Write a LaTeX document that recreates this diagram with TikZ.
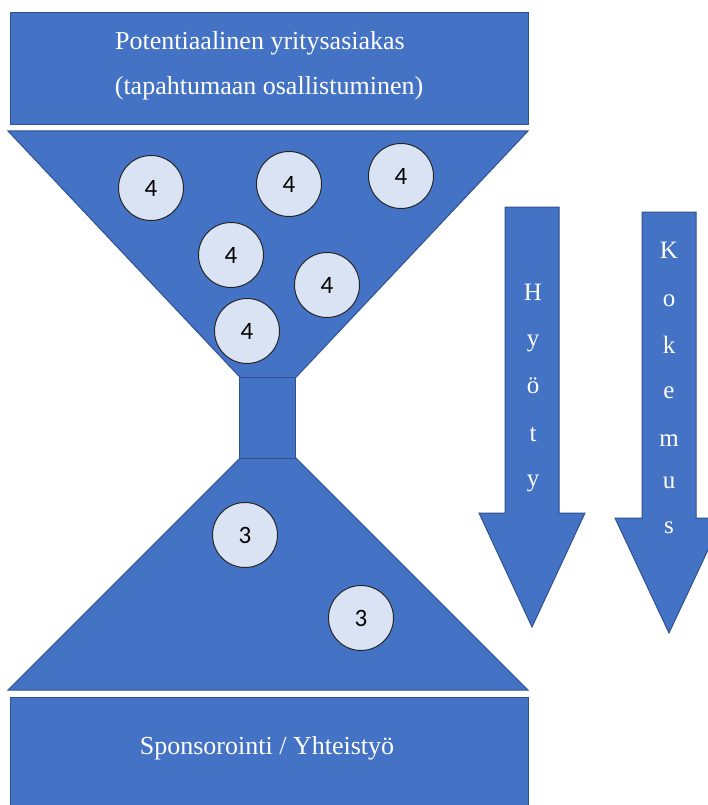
\documentclass[tikz,border=0pt]{standalone}
\usepackage{fontspec}
\setmainfont{Liberation Serif}
\newfontfamily\digitfont{Carlito}
\begin{document}
\begin{tikzpicture}[x=1pt,y=-1pt,
  blueshape/.style={fill=myblue,draw=myborder,line width=1pt},
  ball/.style={circle,fill=mylight,draw=black!85,line width=1pt,minimum size=65pt,inner sep=0pt,font=\digitfont\fontsize{25}{25}\selectfont},
  wtext/.style={text=white,font=\fontsize{26}{26}\selectfont,inner sep=0pt},
  letter/.style={text=white,font=\fontsize{25}{25}\selectfont,inner sep=0pt,anchor=base}]
\definecolor{myblue}{HTML}{4472C4}
\definecolor{myborder}{HTML}{2F528F}
\definecolor{mylight}{HTML}{DAE3F3}
\useasboundingbox (0,0) rectangle (708,805);
\fill[white] (0,0) rectangle (708,805);
% top box
\draw[blueshape] (10,13) rectangle (528,125);
\node[wtext] (t1) at (260,43) {Potentiaalinen yritysasiakas};
\node[wtext] (t2) at (269,88) {(tapahtumaan osallistuminen)};
% funnel
\draw[blueshape] (8,131) -- (528,131) -- (268,407) -- cycle;
\draw[blueshape] (8,690) -- (528,690) -- (268,430) -- cycle;
\draw[blueshape] (239,377) rectangle (295,458);
% balls
\node[ball] (b1) at (151,188) {4};
\node[ball] (b2) at (289,184) {4};
\node[ball] (b3) at (401,176) {4};
\node[ball] (b4) at (231,255) {4};
\node[ball] (b5) at (327,285) {4};
\node[ball] (b6) at (247,331) {4};
\node[ball] (b7) at (245,535) {3};
\node[ball] (b8) at (361,618) {3};
% bottom box
\draw[blueshape] (10,697) rectangle (528,812);
\node[wtext] (t3) at (267,748) {Sponsorointi / Yhteistyö};
% arrows
\draw[blueshape] (505,207) -- (559,207) -- (559,513) -- (585,513) -- (532,627) -- (479,513) -- (505,513) -- cycle;
\draw[blueshape] (642,212) -- (696,212) -- (696,518) -- (723,518) -- (669,633) -- (615,518) -- (642,518) -- cycle;
\foreach \l/\yy [count=\i] in {H/300,y/346,ö/393,t/441,y/486}
  \node[letter] (h\i) at (533,\yy) {\l};
\foreach \l/\yy [count=\i] in {K/258,o/306,k/353,e/398,m/446,u/488,s/533}
  \node[letter] (k\i) at (669,\yy) {\l};
\end{tikzpicture}
\end{document}
